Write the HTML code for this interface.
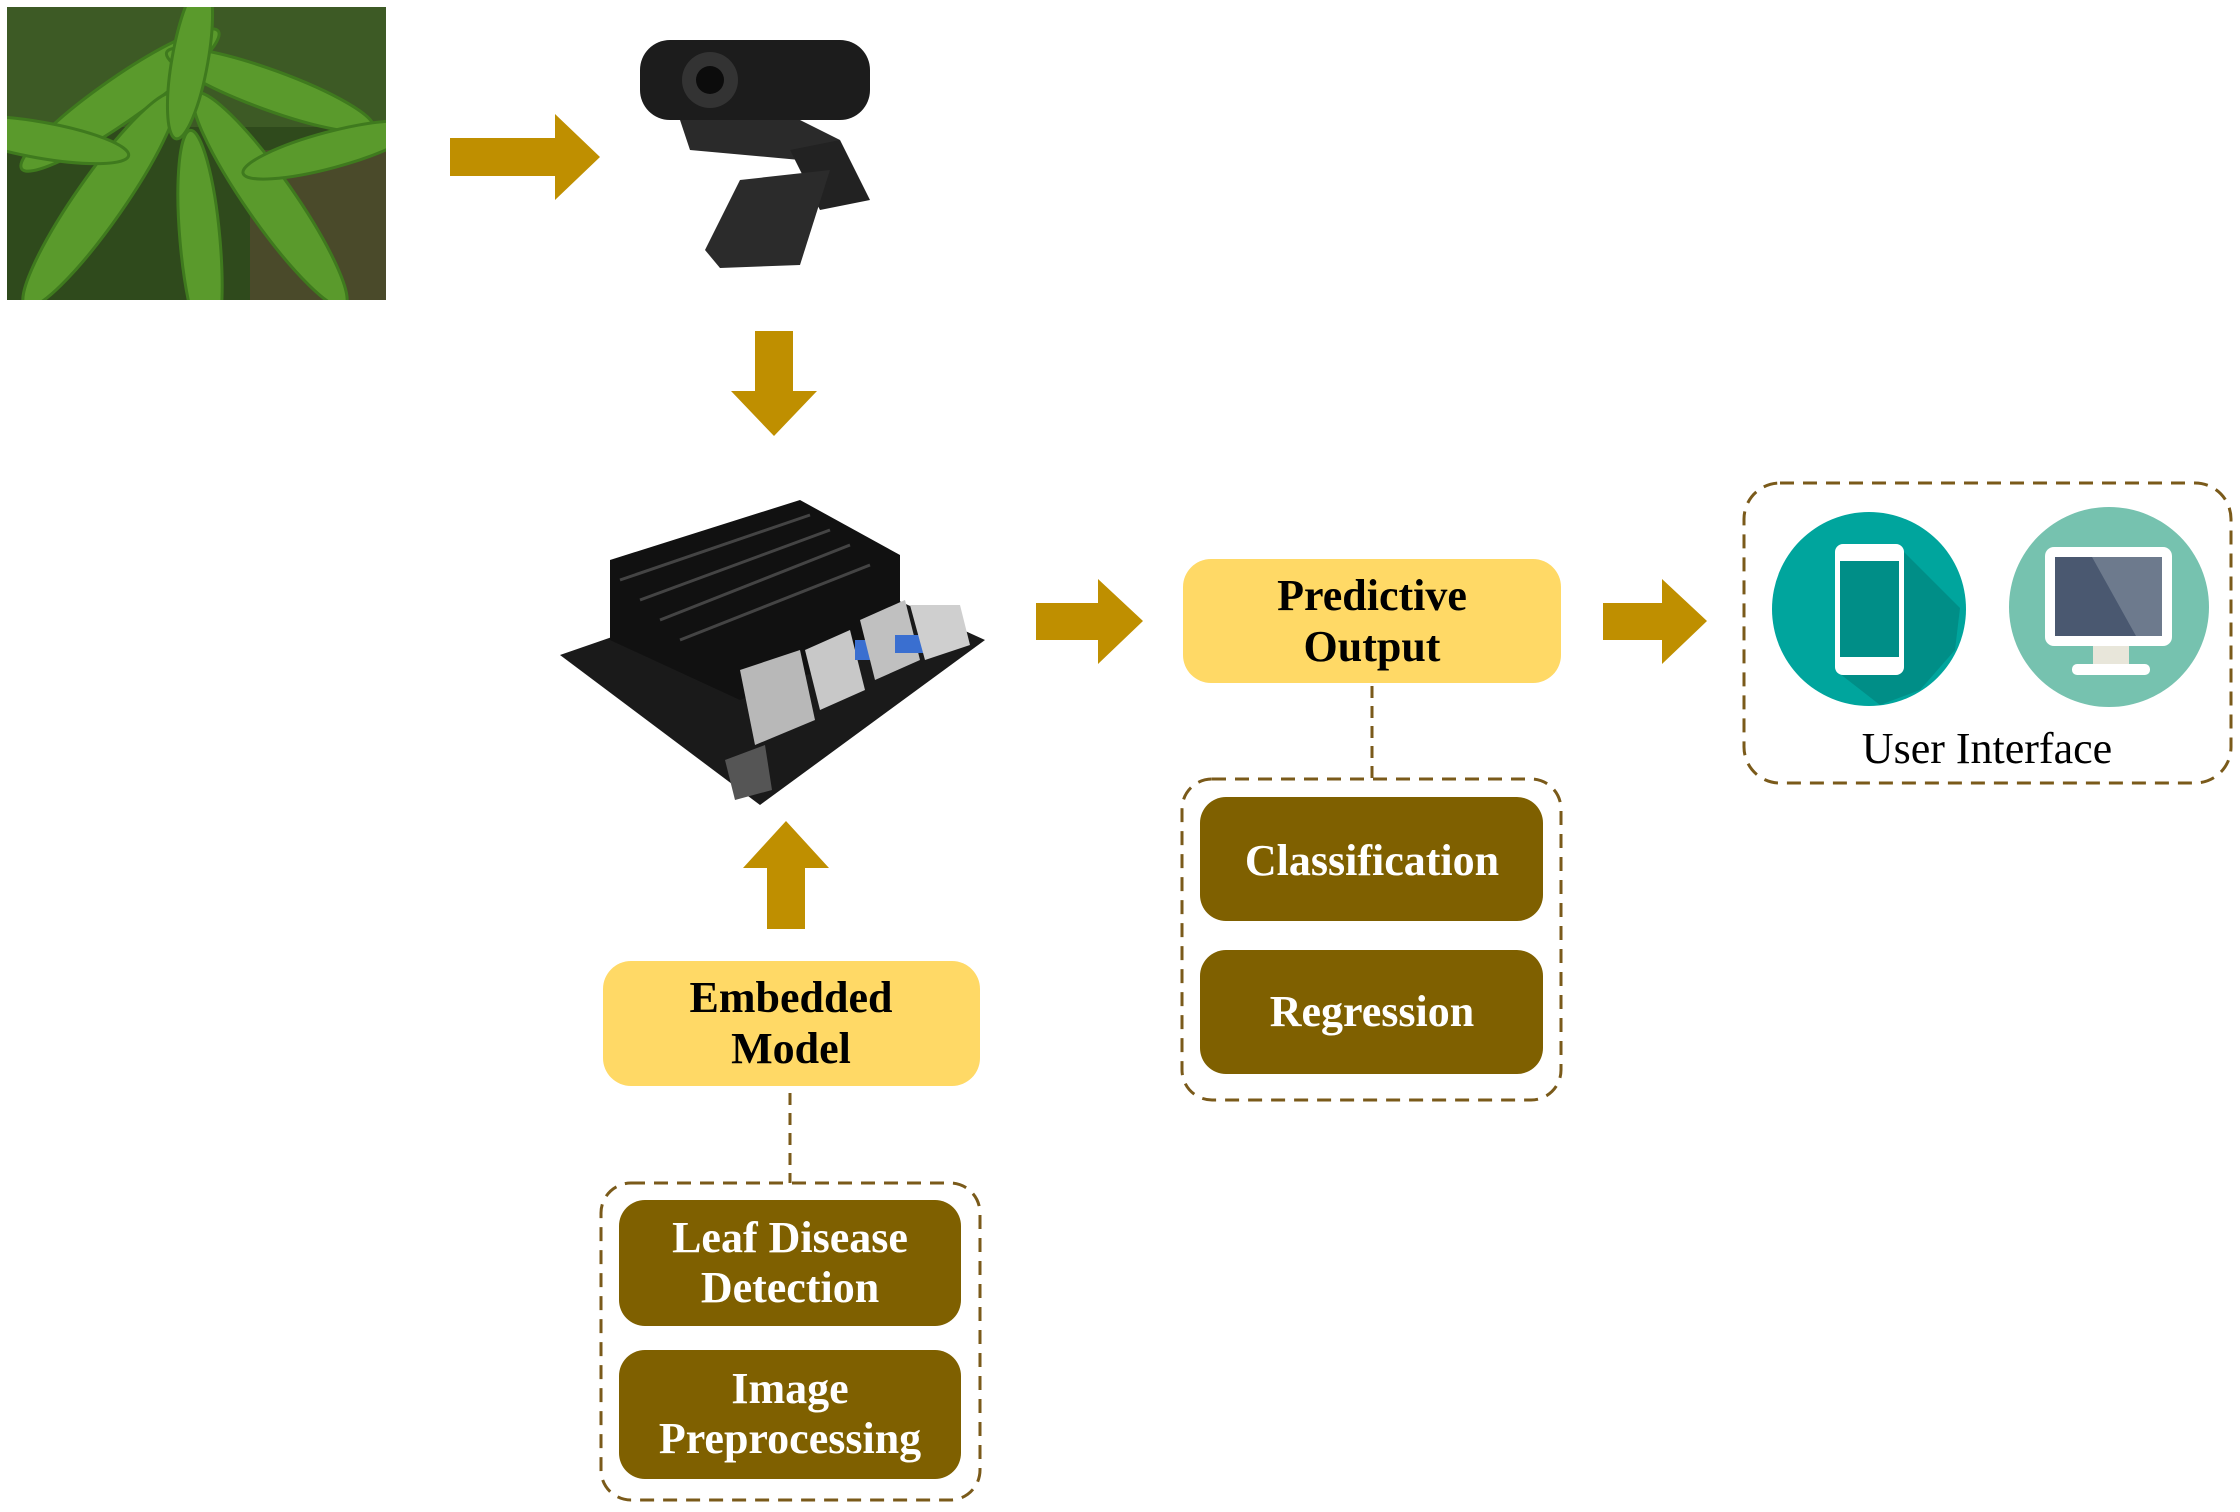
<!DOCTYPE html>
<html><head><meta charset="utf-8"><style>
html,body{margin:0;padding:0;background:#fff;}
svg{display:block;}
text{font-family:"Liberation Serif",serif;font-weight:bold;}
text.n{font-weight:normal;}
</style></head><body>
<svg width="2240" height="1512" viewBox="0 0 2240 1512" xmlns="http://www.w3.org/2000/svg">
<defs><clipPath id="lc"><rect x="7" y="7" width="379" height="293"/></clipPath></defs>
<g clip-path="url(#lc)">
<rect x="7" y="7" width="379" height="293" fill="#2f4a1c"/>
<rect x="7" y="7" width="379" height="120" fill="#3d5a25"/>
<rect x="250" y="150" width="140" height="150" fill="#4a4a2a"/>
<g fill="#5a9a2c" stroke="#3f7a1e" stroke-width="3">
<ellipse cx="120" cy="100" rx="120" ry="22" transform="rotate(-35 120 100)"/>
<ellipse cx="270" cy="90" rx="110" ry="20" transform="rotate(20 270 90)"/>
<ellipse cx="100" cy="200" rx="130" ry="24" transform="rotate(-55 100 200)"/>
<ellipse cx="270" cy="200" rx="130" ry="24" transform="rotate(55 270 200)"/>
<ellipse cx="190" cy="60" rx="80" ry="18" transform="rotate(-80 190 60)"/>
<ellipse cx="40" cy="140" rx="90" ry="18" transform="rotate(10 40 140)"/>
<ellipse cx="330" cy="150" rx="90" ry="18" transform="rotate(-15 330 150)"/>
<ellipse cx="200" cy="240" rx="110" ry="20" transform="rotate(-95 200 240)"/>
</g>
</g>
<g fill="#BF8F00">
<polygon points="450,138 555,138 555,114 600,157 555,200 555,176 450,176"/>
<polygon points="755,331 793,331 793,391 817,391 774,436 731,391 755,391"/>
<polygon points="1036,603 1098,603 1098,579 1143,621 1098,664 1098,640 1036,640"/>
<polygon points="1603,603 1662,603 1662,579 1707,621 1662,664 1662,640 1603,640"/>
<polygon points="767,929 805,929 805,868 829,868 786,821 743,868 767,868"/>
</g>
<g>
<rect x="640" y="40" width="230" height="80" rx="30" fill="#1c1c1c"/>
<circle cx="710" cy="80" r="28" fill="#333"/><circle cx="710" cy="80" r="14" fill="#0c0c0c"/>
<polygon points="680,120 800,120 840,140 800,160 690,150" fill="#2a2a2a"/>
<polygon points="790,150 840,140 870,200 820,210" fill="#222"/>
<polygon points="740,180 830,170 800,265 720,268 705,250" fill="#2b2b2b"/>
</g>
<g>
<polygon points="560,655 820,565 985,640 760,805" fill="#1a1a1a"/>
<polygon points="610,560 800,500 900,555 900,640 740,700 610,640" fill="#111"/>
<g stroke="#444" stroke-width="3"><line x1="620" y1="580" x2="810" y2="515"/><line x1="640" y1="600" x2="830" y2="530"/><line x1="660" y1="620" x2="850" y2="545"/><line x1="680" y1="640" x2="870" y2="565"/></g>
<polygon points="740,670 800,650 815,720 755,745" fill="#b8b8b8"/>
<polygon points="805,650 850,630 865,690 820,710" fill="#c8c8c8"/>
<rect x="855" y="640" width="36" height="20" fill="#3a6fd0"/>
<polygon points="860,620 905,600 920,660 875,680" fill="#c0c0c0"/>
<rect x="895" y="635" width="30" height="18" fill="#3a6fd0"/>
<polygon points="910,605 960,605 970,645 925,660" fill="#cfcfcf"/>
<polygon points="725,760 765,745 772,790 735,800" fill="#555"/>
</g>
<rect x="603" y="961" width="377" height="125" rx="28" fill="#FFD966"/>
<text x="791" y="1012" font-size="44" text-anchor="middle" fill="#000">Embedded</text>
<text x="791" y="1063" font-size="44" text-anchor="middle" fill="#000">Model</text>
<line x1="790" y1="1093" x2="790" y2="1183" stroke="#7a5a1a" stroke-width="3" stroke-dasharray="12,8"/>
<rect x="601" y="1183" width="379" height="317" rx="30" fill="none" stroke="#7a5a1a" stroke-width="3" stroke-dasharray="14,9"/>
<rect x="619" y="1200" width="342" height="126" rx="26" fill="#7F6000"/>
<text x="790" y="1252" font-size="44" text-anchor="middle" fill="#fff">Leaf Disease</text>
<text x="790" y="1302" font-size="44" text-anchor="middle" fill="#fff">Detection</text>
<rect x="619" y="1350" width="342" height="129" rx="26" fill="#7F6000"/>
<text x="790" y="1403" font-size="44" text-anchor="middle" fill="#fff">Image</text>
<text x="790" y="1453" font-size="44" text-anchor="middle" fill="#fff">Preprocessing</text>
<rect x="1183" y="559" width="378" height="124" rx="28" fill="#FFD966"/>
<text x="1372" y="610" font-size="44" text-anchor="middle" fill="#000">Predictive</text>
<text x="1372" y="661" font-size="44" text-anchor="middle" fill="#000">Output</text>
<line x1="1372" y1="686" x2="1372" y2="779" stroke="#7a5a1a" stroke-width="3" stroke-dasharray="12,8"/>
<rect x="1182" y="779" width="379" height="321" rx="30" fill="none" stroke="#7a5a1a" stroke-width="3" stroke-dasharray="14,9"/>
<rect x="1200" y="797" width="343" height="124" rx="26" fill="#7F6000"/>
<text x="1372" y="875" font-size="44" text-anchor="middle" fill="#fff">Classification</text>
<rect x="1200" y="950" width="343" height="124" rx="26" fill="#7F6000"/>
<text x="1372" y="1026" font-size="44" text-anchor="middle" fill="#fff">Regression</text>
<rect x="1744" y="483" width="487" height="300" rx="36" fill="none" stroke="#7a5a1a" stroke-width="3" stroke-dasharray="14,9"/>
<circle cx="1869" cy="609" r="97" fill="#00A59D"/>
<polygon points="1900,548 1960,608 1955,650 1920,690 1880,705 1835,670 1835,660" fill="#008E87"/>
<rect x="1835" y="544" width="69" height="131" rx="8" fill="#fff"/>
<rect x="1840" y="561" width="59" height="96" fill="#008E87"/>
<circle cx="2109" cy="607" r="100" fill="#76C2AF"/>
<rect x="2045" y="547" width="127" height="99" rx="9" fill="#fff"/>
<rect x="2055" y="557" width="107" height="79" fill="#4A5870"/>
<polygon points="2092,557 2162,557 2162,636 2136,636" fill="#6D7A8D"/>
<rect x="2093" y="646" width="36" height="20" fill="#e8e6da"/>
<rect x="2072" y="664" width="78" height="11" rx="5" fill="#fff"/>
<text class="n" x="1987" y="763" font-size="44" text-anchor="middle" fill="#000">User Interface</text>
</svg>
</body></html>
